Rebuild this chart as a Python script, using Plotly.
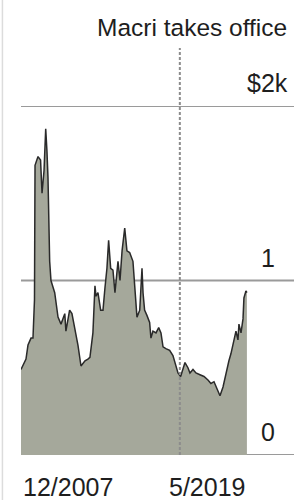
import plotly.graph_objects as go

# ---- data (values in thousands of dollars) ----
dates = [
    "2007-12-01", "2008-03-02", "2008-04-08", "2008-06-03", "2008-07-09", "2008-08-06",
    "2008-08-16", "2008-09-13", "2008-10-10", "2008-11-26", "2008-12-23", "2009-01-29",
    "2009-03-01", "2009-03-24", "2009-04-12", "2009-05-13", "2009-06-06", "2009-08-14",
    "2009-10-14", "2009-12-08", "2010-02-16", "2010-03-09", "2010-05-16", "2010-06-28",
    "2010-08-17", "2010-10-17", "2010-12-12", "2011-02-24", "2011-04-19", "2011-05-26",
    "2011-07-20", "2011-08-27", "2011-09-15", "2011-10-21", "2011-12-10", "2012-01-22",
    "2012-02-28", "2012-04-04", "2012-05-05", "2012-06-12", "2012-07-24", "2012-08-30",
    "2012-10-25", "2012-12-01", "2013-01-08", "2013-02-26", "2013-04-08", "2013-05-28",
    "2013-07-28", "2013-09-04", "2013-10-10", "2013-11-30", "2013-12-23", "2014-01-11",
    "2014-01-30", "2014-02-28", "2014-04-12", "2014-06-01", "2014-06-25", "2014-08-01",
    "2014-09-26", "2014-11-15", "2014-12-27", "2015-02-03", "2015-03-28", "2015-06-05",
    "2015-08-05", "2015-09-11", "2015-11-06", "2015-12-25", "2016-02-07", "2016-03-14",
    "2016-05-08", "2016-06-14", "2016-08-09", "2016-10-03", "2016-12-16", "2017-02-28",
    "2017-05-12", "2017-07-06", "2017-09-01", "2017-11-13", "2017-12-20", "2018-02-14",
    "2018-04-09", "2018-06-03", "2018-07-10", "2018-09-04", "2018-10-11", "2018-11-17",
    "2018-12-05", "2019-01-12", "2019-02-18", "2019-03-07", "2019-04-13", "2019-05-01",
]
values = [
    0.49, 0.55, 0.63, 0.67, 0.67, 0.89,
    1.66, 1.69, 1.71, 1.69, 1.50, 1.63,
    1.87, 1.74, 1.59, 1.11, 1.00, 0.93,
    0.79, 0.75, 0.81, 0.71, 0.83, 0.81,
    0.73, 0.63, 0.51, 0.54, 0.55, 0.56,
    0.70, 0.97, 0.91, 0.93, 0.83, 0.83,
    0.96, 1.07, 1.23, 1.07, 1.06, 0.93,
    1.11, 1.00, 1.17, 1.30, 1.17, 1.16,
    1.11, 0.96, 0.79, 0.83, 0.94, 1.07,
    0.93, 0.83, 0.80, 0.76, 0.67, 0.71,
    0.70, 0.73, 0.70, 0.62, 0.61, 0.60,
    0.57, 0.53, 0.47, 0.45, 0.50, 0.53,
    0.50, 0.47, 0.49, 0.47, 0.46, 0.45,
    0.43, 0.41, 0.42, 0.37, 0.34, 0.39,
    0.47, 0.54, 0.58, 0.66, 0.71, 0.66,
    0.75, 0.70, 0.78, 0.90, 0.94, 0.93,
]
tick_values = [0, 1, 2]
tick_labels = ["0", "1", "$2k"]
x_labels = ["12/2007", "5/2019"]
event_date = "2015-12-10"
event_label = "Macri takes office"

FONT = "Liberation Sans, Arial, sans-serif"
TXT = "#1e1e1e"

fig = go.Figure()
fig.add_trace(go.Scatter(
    x=dates, y=values, mode="lines", fill="tozeroy",
    line=dict(color="#2a2a2a", width=1.5),
    fillcolor="#a5a89b", hoverinfo="skip", showlegend=False,
))

shapes = []
# horizontal gridlines
for v in tick_values:
    shapes.append(dict(type="line", xref="paper", yref="y", x0=0, x1=1, y0=v, y1=v,
                       line=dict(color="#9a9a9a", width=2), layer="below"))
# event dashed line
shapes.append(dict(type="line", xref="x", yref="paper", x0=event_date, x1=event_date,
                   y0=0, y1=1.166, line=dict(color="#8c8c8c", width=2, dash="3px,2px"),
                   layer="above"))
# faint page border on the left
shapes.append(dict(type="line", xref="paper", yref="paper", x0=-0.068, x1=-0.068,
                   y0=-0.13, y1=1.31, line=dict(color="#dcdcdc", width=1.5)))

annotations = []
right_edges = {"0": 0.9377, "1": 0.9377, "$2k": 0.985}
for v, lab in zip(tick_values, tick_labels):
    annotations.append(dict(xref="paper", yref="y", x=right_edges[lab], y=v,
                            xanchor="right", yanchor="bottom", yshift=7,
                            text=lab, showarrow=False,
                            font=dict(family=FONT, size=25, color=TXT)))
annotations.append(dict(xref="x", yref="paper", x=dates[0], y=-0.1375,
                        xanchor="left", yanchor="bottom", text=x_labels[0],
                        showarrow=False, font=dict(family=FONT, size=25, color=TXT)))
annotations.append(dict(xref="x", yref="paper", x=dates[-1], y=-0.1375,
                        xanchor="right", yanchor="bottom", text=x_labels[1],
                        showarrow=False, font=dict(family=FONT, size=25, color=TXT)))
annotations.append(dict(xref="paper", yref="paper", x=0.9817, y=1.1805,
                        xanchor="right", yanchor="bottom", text=event_label,
                        showarrow=False, font=dict(family=FONT, size=24.5, color=TXT)))

fig.update_layout(
    width=294, height=500,
    margin=dict(l=21, r=0, t=106, b=45, pad=0),
    paper_bgcolor="white", plot_bgcolor="white",
    xaxis=dict(range=["2007-12-01", "2021-09-16"], showgrid=False, zeroline=False,
               showticklabels=False, showline=False, ticks=""),
    yaxis=dict(range=[0, 2], showgrid=False, zeroline=False,
               showticklabels=False, showline=False, ticks=""),
    shapes=shapes, annotations=annotations,
)

fig.write_html("out.html", config={"displayModeBar": False},
               post_script="document.body.style.margin='0';document.body.style.overflow='hidden';")
